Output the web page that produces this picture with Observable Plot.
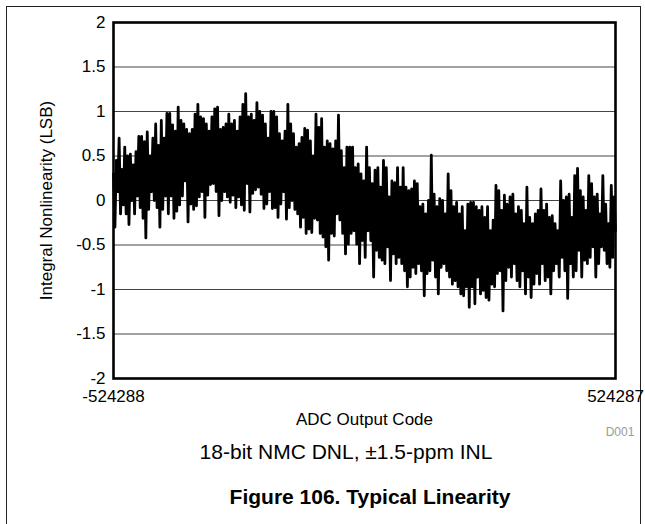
<!DOCTYPE html>
<html>
<head>
<meta charset="utf-8">
<script src="https://cdn.jsdelivr.net/npm/d3@7"></script>
<script src="https://cdn.jsdelivr.net/npm/@observablehq/plot@0.6"></script>
<style>
  html, body { margin: 0; padding: 0; background: #fff; }
  #wrap { position: relative; width: 645px; height: 524px; overflow: hidden; font-family: "Liberation Sans", Arial, sans-serif; }
  #border { position: absolute; left: 6px; top: 6px; width: 633px; height: 540px; border-left: 1px solid #222; border-top: 1px solid #222; border-right: 1px solid #222; }
  #chart { position: absolute; left: 0; top: 0; }
  .cap { position: absolute; white-space: nowrap; transform: translate(-50%, -50%); color: #000; }
</style>
</head>
<body>
<div id="wrap">
  <div id="border"></div>
  <div id="chart"></div>
  <div class="cap" style="left:620px; top:432px; font-size:12px; color:#999;">D001</div>
  <div class="cap" style="left:346px; top:452px; font-size:21px;">18-bit NMC DNL, ±1.5-ppm INL</div>
  <div class="cap" style="left:370px; top:497px; font-size:21px; font-weight:bold;">Figure 106. Typical Linearity</div>
</div>
<script>
// Tick values / labels
const xTicks = [-524288, 524287];
const yTicks = [-2, -1.5, -1, -0.5, 0, 0.5, 1, 1.5, 2];
const xTitle = "ADC Output Code";
const yTitle = "Integral Nonlinearity (LSB)";

const inlSeg1 = [0.3,-0.3, 0.45,0.1, 0.7,-0.15, 0.35,-0.05, 0.6,-0.15, 0.5,-0.27, 0.52,0.0, 0.4,-0.15, 0.55,0.05, 0.72,-0.08, 0.72,-0.2, 0.66,-0.42, 0.77,-0.1, 0.5,0.1, 0.7,0.0, 0.86,-0.08, 0.62,-0.3, 0.9,-0.1, 0.7,0.05, 0.98,-0.15, 0.98,0.05, 0.85,-0.2, 0.78,-0.12, 1.05,-0.05, 0.9,0.05];
const inlSeg2 = [0.86,0.22, 0.8,-0.24, 0.75,-0.04, 0.8,-0.1, 0.97,-0.06, 1.08,0.04, 0.94,0.1, 0.92,-0.19, 0.86,0.06, 0.78,0.18, 0.94,0.19, 1.03,0.1, 1.05,-0.17, 0.8,0.0, 0.82,0.1, 0.86,0.04, 0.97,-0.02, 0.86,0.06, 0.9,-0.08, 0.78,0.04, 0.94,-0.05, 1.08,-0.11, 1.2,0.19, 0.94,-0.13, 0.97,0.08, 0.9,0.12];
const inlSeg3 = [1.1,0.15, 1.0,0.07, 0.96,-0.09, 0.86,-0.04, 0.7,0.1, 1.0,-0.09, 1.0,-0.08, 0.94,-0.19, 0.75,-0.04, 0.67,0.1, 0.78,-0.21, 1.08,-0.08, 0.86,0.0, 0.75,-0.1, 0.6,-0.15, 0.64,-0.3, 0.71,-0.19, 0.81,-0.37, 0.79,-0.32, 0.67,-0.36, 0.5,-0.2, 0.97,-0.22, 0.82,-0.37, 0.92,-0.41, 0.6,-0.52];
const inlSeg4 = [0.67,-0.67, 0.64,-0.37, 0.58,-0.4, 0.67,-0.15, 0.96,-0.22, 0.56,-0.37, 0.37,-0.6, 0.6,-0.49, 0.6,-0.37, 0.6,-0.34, 0.37,-0.49, 0.41,-0.71, 0.3,-0.45, 0.22,-0.64, 0.6,-0.34, 0.37,-0.45, 0.19,-0.86, 0.34,-0.56, 0.37,-0.64, 0.15,-0.67, 0.45,-0.71, 0.37,-0.52, 0.04,-0.9, 0.22,-0.6, 0.2,-0.71, 0.37,-0.64];
const inlSeg5 = [0.15,-0.71, 0.37,-0.79, 0.15,-0.97, 0.11,-0.86, 0.13,-0.75, 0.22,-0.82, 0.19,-0.71, -0.07,-0.79, -0.04,-1.07, -0.15,-0.82, 0.0,-0.79, 0.51,-0.67, 0.07,-0.86, -0.07,-1.05, 0.02,-0.75, 0.0,-0.71, -0.15,-0.79, 0.3,-0.86, 0.11,-0.94, -0.07,-0.9, -0.02,-0.97, -0.15,-1.05, -0.07,-1.07, -0.34,-0.97, -0.04,-1.2, -0.02,-0.97];
const inlSeg6 = [-0.02,-1.16, -0.07,-0.86, -0.11,-1.05, -0.07,-1.01, -0.19,-1.09, -0.07,-1.12, -0.34,-0.94, -0.22,-0.97, 0.17,-0.82, 0.11,-0.79, -0.11,-1.24, 0.06,-0.9, -0.04,-0.75, 0.04,-0.86, 0.07,-0.71, -0.15,-0.9, -0.07,-0.97, -0.11,-0.79, -0.26,-1.05, 0.15,-0.86, -0.19,-1.09, -0.26,-0.94, -0.15,-0.82, -0.11,-0.94, 0.13,-0.71, -0.11,-0.9];
const inlSeg7 = [-0.04,-0.86, -0.19,-1.05, -0.17,-0.79, -0.26,-0.71, -0.34,-0.86, 0.22,-0.64, 0.0,-0.79, 0.04,-1.1, 0.07,-0.71, -0.19,-0.86, 0.28,-0.79, 0.36,-0.56, 0.11,-0.86, 0.04,-0.67, -0.11,-0.71, 0.28,-0.64, 0.19,-0.52, 0.04,-0.86, 0.07,-0.71, -0.15,-0.52, 0.28,-0.56, -0.04,-0.71, -0.26,-0.75, 0.17,-0.64, 0.04,-0.34];

const inl = [].concat(inlSeg1, inlSeg2, inlSeg3, inlSeg4, inlSeg5, inlSeg6, inlSeg7);
const codeMin = xTicks[0], codeMax = xTicks[1];
const data = inl.map((v, i) => ({code: codeMin + (codeMax - codeMin) * i / (inl.length - 1), inl: v}));

const chart = Plot.plot({
  width: 645,
  height: 440,
  marginLeft: 113,
  marginRight: 30,
  marginTop: 22,
  marginBottom: 62,
  style: {fontFamily: '"Liberation Sans", Arial, sans-serif', fontSize: "17px", color: "#000", background: "transparent", overflow: "visible"},
  x: {domain: [codeMin, codeMax], ticks: xTicks, tickSize: 0, tickPadding: 11, tickFormat: d => String(d), label: null},
  y: {domain: [-2, 2], ticks: yTicks, tickSize: 0, tickPadding: 8, tickFormat: d => String(d), label: null},
  marks: [
    Plot.gridY(yTicks, {stroke: "#444", strokeOpacity: 1, strokeWidth: 1}),
    Plot.line(data, {x: "code", y: "inl", stroke: "#000", strokeWidth: 2.8}),
    Plot.frame({stroke: "#000", strokeWidth: 2.6}),
    Plot.text([yTitle], {frameAnchor: "left", dx: -67, rotate: -90, textAnchor: "middle", lineAnchor: "middle", text: d => d, fontSize: 17}),
    Plot.text([xTitle], {frameAnchor: "bottom", dy: 41, textAnchor: "middle", lineAnchor: "middle", text: d => d, fontSize: 17})
  ]
});
document.getElementById("chart").appendChild(chart);
</script>
</body>
</html>
